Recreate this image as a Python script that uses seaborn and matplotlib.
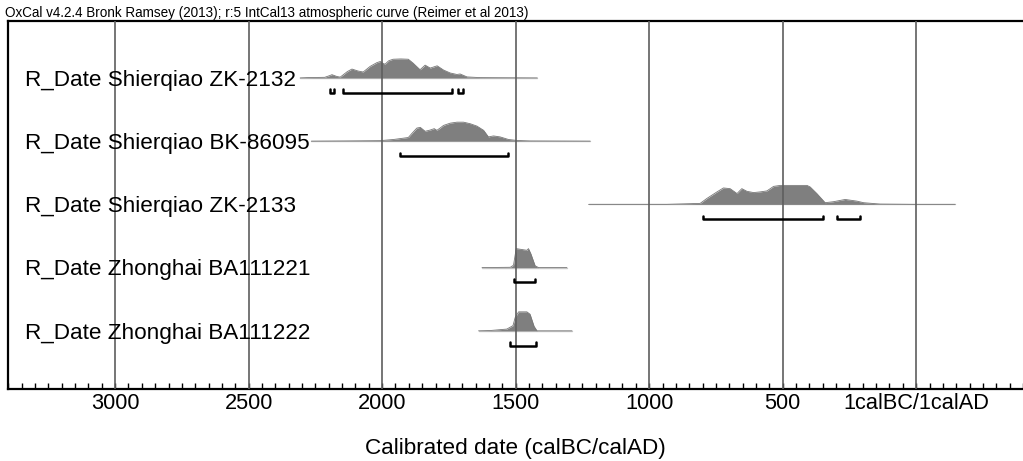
import numpy as np
import pandas as pd
import matplotlib
matplotlib.use("Agg")
import matplotlib.pyplot as plt
import matplotlib.transforms as mtransforms
from matplotlib.ticker import FixedLocator, MultipleLocator
import seaborn as sns

# ---------------- data (years BC positive, AD negative) ----------------
title_text = "OxCal v4.2.4 Bronk Ramsey (2013); r:5 IntCal13 atmospheric curve (Reimer et al 2013)"
sample_labels = [
    "R_Date Shierqiao ZK-2132",
    "R_Date Shierqiao BK-86095",
    "R_Date Shierqiao ZK-2133",
    "R_Date Zhonghai BA111221",
    "R_Date Zhonghai BA111222",
]

zk2132_years = [2307, 2282, 2215, 2195, 2188, 2170, 2157, 2130, 2113, 2090, 2071, 2045, 2020, 2007,
                1995, 1989, 1975, 1959, 1930, 1902, 1884, 1858, 1839, 1820, 1794, 1770, 1745, 1720,
                1708, 1682, 1633, 1419]
zk2132_dens = [0, 0.3, 0.6, 2.5, 3.3, 1.5, 0.8, 6.5, 9, 7, 6, 11.7, 15.5, 16.7,
               14.5, 14, 17.5, 19, 19.3, 19, 15, 8.3, 13, 10, 12.3, 8, 5, 3.5,
               4, 1, 0.3, 0]

bk86095_years = [2265, 2138, 2007, 1957, 1902, 1889, 1870, 1857, 1839, 1820, 1805, 1795, 1783, 1770,
                 1745, 1720, 1695, 1670, 1645, 1620, 1602, 1583, 1558, 1527, 1495, 1446, 1221]
bk86095_dens = [0, 0.2, 0.5, 1.7, 3.7, 7.7, 13.3, 14, 10, 11.3, 12.7, 11, 13.3, 16,
                18.3, 19.3, 19.3, 17.7, 15.3, 11, 4.3, 5.3, 4.3, 1.7, 0.7, 0.2, 0]

zk2133_years = [1227, 934, 809, 784, 746, 722, 697, 671, 653, 634, 609, 584, 559, 534, 509, 409,
                397, 372, 341, 310, 266, 222, 197, 135, 11, -146]
zk2133_dens = [0, 0, 1, 6, 12.7, 16.7, 16, 11, 16, 13.3, 12, 12.7, 13.7, 18.3, 19.3, 19.3,
               17.7, 11, 1.7, 2.7, 5, 3.3, 1.7, 0.3, 0, 0]

ba111221_years = [1626, 1520, 1508, 1498, 1483, 1458, 1452, 1443, 1427, 1414, 1308]
ba111221_dens = [0, 0.3, 2.3, 18.3, 17.7, 16.7, 18.3, 13.3, 1.7, 0, 0]

ba111222_years = [1639, 1595, 1533, 1510, 1502, 1489, 1458, 1446, 1431, 1420, 1289]
ba111222_dens = [0, 0.3, 1.7, 5, 12.7, 18.3, 18.3, 16, 4.3, 0, 0]

# 95.4% ranges (start BC, end BC)
zk2132_ranges = [(2195, 2180), (2146, 1738), (1715, 1697)]
bk86095_ranges = [(1932, 1527)]
zk2133_ranges = [(797, 349), (297, 210)]
ba111221_ranges = [(1508, 1427)]
ba111222_ranges = [(1520, 1423)]

tick_years = [3000, 2500, 2000, 1500, 1000, 500, 0]
tick_labels = ["3000", "2500", "2000", "1500", "1000", "500", "1calBC/1calAD"]
x_label = "Calibrated date (calBC/calAD)"

samples = [
    (zk2132_years, zk2132_dens, zk2132_ranges),
    (bk86095_years, bk86095_dens, bk86095_ranges),
    (zk2133_years, zk2133_dens, zk2133_ranges),
    (ba111221_years, ba111221_dens, ba111221_ranges),
    (ba111222_years, ba111222_dens, ba111222_ranges),
]

# ---------------- styling ----------------
sns.set_theme(style="white")
plt.rcParams["font.family"] = ["Liberation Sans", "DejaVu Sans"]
plt.rcParams["text.color"] = "black"
plt.rcParams["axes.labelcolor"] = "black"
plt.rcParams["xtick.color"] = "black"
plt.rcParams["xtick.labelcolor"] = "black"

W, H = 1023, 461
fig = plt.figure(figsize=(W / 100, H / 100), dpi=100)
ax_left, ax_right = 8.3 / W, 1.0
ax_top, ax_bottom = 1 - 21 / H, 1 - 389 / H
ax = fig.add_axes([ax_left, ax_bottom, ax_right - ax_left, ax_top - ax_bottom])

peak_h = 0.30       # row units for peak height
bracket_off = 0.235  # row units below baseline
bracket_tick = 0.055

for i, (yrs, dens, rngs) in enumerate(samples):
    x = -np.asarray(yrs, dtype=float)
    d = np.asarray(dens, dtype=float)
    d = d / d.max() * peak_h
    df = pd.DataFrame({"x": x, "y": i - d})
    # baseline thin line
    sns.lineplot(x=[x.min(), x.max()], y=[i, i], ax=ax, color="#c8c8c8", lw=1.0,
                 estimator=None, sort=False, zorder=1)
    ax.fill_between(df["x"], i, df["y"], color="#7f7f7f", lw=0, zorder=2)
    sns.lineplot(data=df, x="x", y="y", ax=ax, color="#777777", lw=0.6,
                 estimator=None, sort=False, zorder=2)
    yb = i + bracket_off
    for (s, e) in rngs:
        xs = [-s, -s, -e, -e]
        ys = [yb - bracket_tick, yb, yb, yb - bracket_tick]
        sns.lineplot(x=xs, y=ys, ax=ax, color="black", lw=1.8, estimator=None,
                     sort=False, zorder=4)

# grid lines (vertical)
for t in tick_years:
    ax.axvline(-t, color="#5e5e5e", lw=1.2, zorder=3)

ax.set_xlim(-3400, 400)
ax.set_ylim(4.92, -0.9)

# row labels
trans = mtransforms.blended_transform_factory(ax.transAxes, ax.transData)
for i, lab in enumerate(sample_labels):
    ax.text((25 - 8.3) / (W - 8.3), i + 0.122, lab, transform=trans, ha="left",
            va="baseline", fontsize=16.2, color="black", zorder=5)

ax.xaxis.set_major_locator(FixedLocator([-t for t in tick_years]))
ax.set_xticklabels(tick_labels, fontsize=15.7, color="black")
ax.xaxis.set_minor_locator(MultipleLocator(50))
ax.tick_params(axis="x", which="both", direction="in", bottom=True, top=False,
               color="black", labelcolor="black", width=1.0, pad=3)
ax.tick_params(axis="x", which="major", length=4.5)
ax.tick_params(axis="x", which="minor", length=4.3)
ax.set_yticks([])
ax.set_xlabel(x_label, fontsize=16.2, labelpad=17, color="black")
ax.set_ylabel("")

for side in ["left", "top", "bottom"]:
    ax.spines[side].set_visible(True)
    ax.spines[side].set_color("black")
    ax.spines[side].set_linewidth(1.6)
ax.spines["right"].set_visible(False)

fig.text(5 / W, 1 - 17 / H, title_text, fontsize=9.75, ha="left", va="baseline",
         color="black")

fig.savefig("out.png", dpi=100)
